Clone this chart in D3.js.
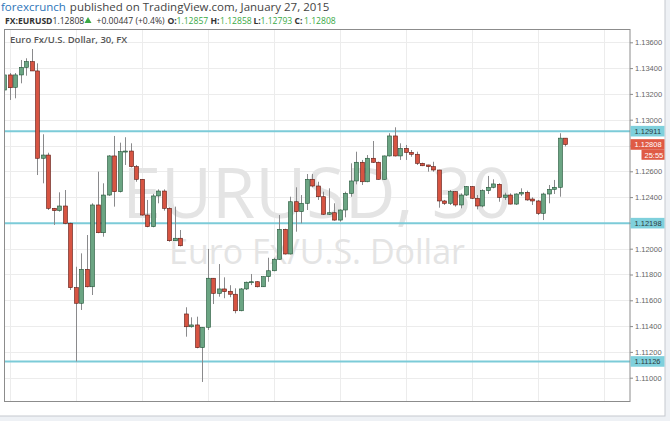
<!DOCTYPE html>
<html>
<head>
<meta charset="utf-8">
<script src="https://cdn.jsdelivr.net/npm/d3@7"></script>
<style>
body { margin: 0; background: #eef1f5; }
svg { display: block; font-family: "Open Sans", sans-serif; }
</style>
</head>
<body>
<svg id="chart" width="670" height="421"></svg>
<script>
// EURUSD 30 min bars, index 0 = 23 Jan 06:00 (weekend gap skipped)
var firstBar = -1;
var opens = [
    1.13230, 1.13347, 1.13251, 1.13347, 1.13406, 1.13450, 1.13378, 1.12701, 1.12726, 1.12313,
    1.12295, 1.12331, 1.12197, 1.11698, 1.11577, 1.11840, 1.11705, 1.12339, 1.12124, 1.12416,
    1.12719, 1.12442, 1.12752, 1.12757, 1.12636, 1.12538, 1.12261, 1.12171, 1.12409, 1.12447,
    1.12313, 1.12062, 1.12081, 1.11494, 1.11395, 1.11409, 1.11233, 1.11391, 1.11771, 1.11654,
    1.11688, 1.11670, 1.11647, 1.11519, 1.11688, 1.11740, 1.11744, 1.11705, 1.11783, 1.11829,
    1.11918, 1.12150, 1.11959, 1.12364, 1.12287, 1.12352, 1.12538, 1.12486, 1.12403, 1.12267,
    1.12279, 1.12222, 1.12300, 1.12429, 1.12525, 1.12670, 1.12519, 1.12701, 1.12670, 1.12538,
    1.12719, 1.12874, 1.12719, 1.12778, 1.12747, 1.12732, 1.12662, 1.12649, 1.12636, 1.12610,
    1.12370, 1.12352, 1.12442, 1.12339, 1.12416, 1.12481, 1.12391, 1.12331, 1.12450, 1.12476,
    1.12499, 1.12398, 1.12416, 1.12346, 1.12424, 1.12437, 1.12385, 1.12370, 1.12274, 1.12424,
    1.12460, 1.12476, 1.12857
];
var highs = [
    1.13385, 1.13362, 1.13362, 1.13463, 1.13476, 1.13548, 1.13437, 1.12887, 1.12744, 1.12316,
    1.12437, 1.12455, 1.12202, 1.11860, 1.11964, 1.12106, 1.12352, 1.12597, 1.12507, 1.12725,
    1.12874, 1.12822, 1.12864, 1.12817, 1.12649, 1.12540, 1.12378, 1.12425, 1.12460, 1.12460,
    1.12320, 1.12326, 1.12145, 1.11546, 1.11468, 1.11473, 1.11393, 1.11998, 1.11773, 1.11881,
    1.11778, 1.11717, 1.11693, 1.11695, 1.11745, 1.11804, 1.11748, 1.11785, 1.11930, 1.11930,
    1.12261, 1.12155, 1.12403, 1.12476, 1.12416, 1.12579, 1.12579, 1.12519, 1.12442, 1.12468,
    1.12352, 1.12305, 1.12442, 1.12662, 1.12752, 1.12688, 1.12726, 1.12835, 1.12675, 1.12722,
    1.12895, 1.12941, 1.12817, 1.12804, 1.12765, 1.12752, 1.12667, 1.12651, 1.12674, 1.12612,
    1.12378, 1.12455, 1.12445, 1.12429, 1.12486, 1.12486, 1.12416, 1.12460, 1.12564, 1.12538,
    1.12507, 1.12434, 1.12429, 1.12429, 1.12468, 1.12450, 1.12398, 1.12378, 1.12434, 1.12494,
    1.12533, 1.12895, 1.12858
];
var lows = [
    1.13191, 1.13153, 1.13166, 1.13282, 1.13341, 1.13378, 1.12571, 1.12507, 1.12300, 1.12184,
    1.12287, 1.12190, 1.11680, 1.11126, 1.11525, 1.11700, 1.11641, 1.12120, 1.12093, 1.12410,
    1.12326, 1.12436, 1.12649, 1.12630, 1.12519, 1.12255, 1.12166, 1.12166, 1.12352, 1.12295,
    1.12054, 1.12060, 1.12018, 1.11318, 1.11388, 1.11228, 1.10967, 1.11370, 1.11571, 1.11628,
    1.11616, 1.11624, 1.11499, 1.11515, 1.11680, 1.11718, 1.11700, 1.11703, 1.11744, 1.11825,
    1.11913, 1.11955, 1.11955, 1.12132, 1.12197, 1.12300, 1.12476, 1.12378, 1.12261, 1.12261,
    1.12217, 1.12210, 1.12243, 1.12403, 1.12499, 1.12494, 1.12515, 1.12665, 1.12535, 1.12535,
    1.12715, 1.12715, 1.12688, 1.12688, 1.12713, 1.12649, 1.12640, 1.12597, 1.12597, 1.12318,
    1.12339, 1.12339, 1.12326, 1.12313, 1.12408, 1.12385, 1.12305, 1.12321, 1.12424, 1.12468,
    1.12364, 1.12378, 1.12343, 1.12339, 1.12408, 1.12372, 1.12339, 1.12261, 1.12222, 1.12352,
    1.12424, 1.12403, 1.12793
];
var closes = [
    1.13347, 1.13248, 1.13347, 1.13406, 1.13450, 1.13378, 1.12701, 1.12726, 1.12313, 1.12295,
    1.12331, 1.12197, 1.11698, 1.11577, 1.11840, 1.11705, 1.12339, 1.12124, 1.12416, 1.12719,
    1.12442, 1.12752, 1.12757, 1.12636, 1.12538, 1.12261, 1.12171, 1.12409, 1.12447, 1.12313,
    1.12062, 1.12081, 1.12023, 1.11395, 1.11409, 1.11233, 1.11391, 1.11771, 1.11654, 1.11688,
    1.11667, 1.11647, 1.11519, 1.11688, 1.11740, 1.11744, 1.11705, 1.11783, 1.11829, 1.11918,
    1.12150, 1.11959, 1.12364, 1.12287, 1.12352, 1.12538, 1.12486, 1.12403, 1.12267, 1.12279,
    1.12222, 1.12300, 1.12429, 1.12525, 1.12670, 1.12519, 1.12701, 1.12670, 1.12538, 1.12719,
    1.12874, 1.12719, 1.12778, 1.12747, 1.12732, 1.12662, 1.12643, 1.12636, 1.12610, 1.12370,
    1.12352, 1.12442, 1.12339, 1.12416, 1.12481, 1.12391, 1.12331, 1.12450, 1.12476, 1.12502,
    1.12398, 1.12416, 1.12346, 1.12424, 1.12437, 1.12378, 1.12370, 1.12274, 1.12424, 1.12460,
    1.12476, 1.12857, 1.12808
];

var timeTicks = [0, 12, 24, 36, 48, 60, 72, 84, 96, 108];
var timeLabels = ["06:00", "12:00", "18:00", "26", "06:00", "12:00", "18:00", "27", "06:00", "12:00"];
var priceTicks = [1.110, 1.112, 1.114, 1.116, 1.118, 1.120, 1.122, 1.124, 1.126, 1.128, 1.130, 1.132, 1.134, 1.136];
var levels = [1.12911, 1.12198, 1.11126];
var lastPrice = 1.12808;
var countdown = "25:55";

var svg = d3.select("#chart");
var plot = { left: 4, top: 29, right: 630.5, bottom: 402 };

var x = d3.scaleLinear().domain([0, 108]).range([9.5, 603.5]);
var y = d3.scaleLinear().domain([1.110, 1.136]).range([377.7, 42.3]);

// outer panel
svg.append("rect").attr("width", 670).attr("height", 421).attr("fill", "#eef1f5");
svg.append("rect").attr("x", -1).attr("y", -1).attr("width", 666).attr("height", 417)
    .attr("fill", "#fff").attr("stroke", "#c5c9cf");

// header
var head1 = svg.append("text").attr("x", 1).attr("y", 10.5).attr("font-size", 11.5).attr("fill", "#444");
head1.append("tspan").attr("fill", "#2e75b9").text("forexcrunch");
head1.append("tspan").attr("dx", 4).text("published on TradingView.com, January 27, 2015");

var head2 = svg.append("text").attr("y", 23.5).attr("font-size", 8.6).attr("fill", "#333");
var green = "#3aa845";
var parts = [
    { t: "FX:EURUSD", x: 5, bold: true },
    { t: "1.12808", x: 52.5 },
    { t: "+0.00447 (+0.4%)", x: 96.5 },
    { t: "O:", x: 167.5, bold: true }, { t: "1.12857", x: 176.5, c: green },
    { t: "H:", x: 210.5, bold: true }, { t: "1.12858", x: 220, c: green },
    { t: "L:", x: 253.5, bold: true }, { t: "1.12793", x: 260.5, c: green },
    { t: "C:", x: 294.5, bold: true }, { t: "1.12808", x: 304, c: green }
];
parts.forEach(function (p) {
    head2.append("tspan").attr("x", p.x)
        .attr("font-weight", p.bold ? 700 : 400)
        .attr("fill", p.c || "#333")
        .text(p.t);
});
svg.append("path").attr("d", "M84.5,23 L88,17 L91.5,23 Z").attr("fill", green);

svg.append("defs").append("clipPath").attr("id", "plotclip")
    .append("rect").attr("x", plot.left).attr("y", plot.top)
    .attr("width", plot.right - plot.left).attr("height", plot.bottom - plot.top);

var g = svg.append("g").attr("clip-path", "url(#plotclip)");

// grid
g.selectAll("line.hgrid").data(priceTicks.concat([1.138])).enter().append("line")
    .attr("x1", plot.left).attr("x2", plot.right)
    .attr("y1", function (d) { return Math.round(y(d)) + 0.5; })
    .attr("y2", function (d) { return Math.round(y(d)) + 0.5; })
    .attr("stroke", "#ececec");
g.selectAll("line.vgrid").data(timeTicks).enter().append("line")
    .attr("y1", plot.top).attr("y2", plot.bottom)
    .attr("x1", function (d) { return Math.round(x(d)) + 0.5; })
    .attr("x2", function (d) { return Math.round(x(d)) + 0.5; })
    .attr("stroke", "#ececec");

// watermark
g.append("text").attr("x", 317).attr("y", 218).attr("text-anchor", "middle")
    .attr("font-size", 70).attr("fill", "#e4e4e4").text("EURUSD, 30");
g.append("text").attr("x", 317).attr("y", 264).attr("text-anchor", "middle")
    .attr("font-size", 34).attr("fill", "#e4e4e4").text("Euro Fx/U.S. Dollar");

// legend
g.append("text").attr("x", 10).attr("y", 43).attr("font-size", 9.5).attr("font-weight", 600)
    .attr("fill", "#555").text("Euro Fx/U.S. Dollar, 30, FX");

// level lines
g.selectAll("line.level").data(levels).enter().append("line")
    .attr("x1", plot.left).attr("x2", plot.right)
    .attr("y1", function (d) { return y(d); }).attr("y2", function (d) { return y(d); })
    .attr("stroke", "#7ccbd8").attr("stroke-width", 2);

// candles
var bars = opens.map(function (o, k) {
    return { i: k + firstBar, o: o, h: highs[k], l: lows[k], c: closes[k] };
});
var candle = g.selectAll("g.bar").data(bars).enter().append("g")
    .attr("transform", function (d) { return "translate(" + Math.round(x(d.i)) + ",0)"; });
candle.append("line")
    .attr("x1", 0.5).attr("x2", 0.5)
    .attr("y1", function (d) { return y(d.h); })
    .attr("y2", function (d) { return y(d.l); })
    .attr("stroke", "#8a8a8c");
candle.append("rect")
    .attr("x", -1.5).attr("width", 4)
    .attr("y", function (d) { return y(Math.max(d.o, d.c)); })
    .attr("height", function (d) { return Math.max(1, Math.abs(y(d.o) - y(d.c))); })
    .attr("fill", function (d) { return d.c >= d.o ? "#6ba583" : "#d75442"; })
    .attr("stroke", function (d) { return d.c >= d.o ? "#225437" : "#5b1a13"; })
    .attr("stroke-width", 0.6);

// frame
svg.append("rect").attr("x", plot.left + 0.5).attr("y", plot.top + 0.5)
    .attr("width", plot.right - plot.left - 1).attr("height", plot.bottom - plot.top - 1)
    .attr("fill", "none").attr("stroke", "#8c8c8c");

// price axis
var yAxis = svg.append("g").attr("transform", "translate(" + (plot.right - 0.5) + ",0)")
    .call(d3.axisRight(y).tickValues(priceTicks).tickSize(3).tickPadding(2)
        .tickFormat(d3.format(".5f")));
yAxis.select(".domain").remove();
yAxis.selectAll("line").attr("stroke", "#8c8c8c");
yAxis.selectAll("text").attr("font-size", 7.5).attr("fill", "#666")
    .attr("font-family", "Liberation Sans, sans-serif");

// time axis
svg.append("defs").append("clipPath").attr("id", "xclip")
    .append("rect").attr("x", plot.left).attr("y", plot.bottom).attr("width", 640).attr("height", 14);
var xAxis = svg.append("g").attr("clip-path", "url(#xclip)")
    .attr("transform", "translate(0," + plot.bottom + ")")
    .call(d3.axisBottom(x).tickValues(timeTicks).tickSize(0).tickPadding(5)
        .tickFormat(function (d, k) { return timeLabels[k]; }));
xAxis.select(".domain").remove();
xAxis.selectAll("text").attr("font-size", 7.5).attr("fill", "#666")
    .attr("font-family", "Liberation Sans, sans-serif")
    .attr("font-weight", function (d, k) { return timeLabels[k] === "26" ? 700 : 400; });

// price labels on axis
function axisTag(value, fill, color) {
    var tag = svg.append("g").attr("transform", "translate(" + plot.right + "," + y(value) + ")");
    tag.append("rect").attr("x", 0).attr("y", -5.3).attr("width", 34).attr("height", 10.6).attr("fill", fill);
    tag.append("text").attr("x", 4).attr("y", 2.8).attr("font-size", 7.5)
        .attr("font-family", "Liberation Sans, sans-serif").attr("fill", color)
        .text(d3.format(".5f")(value));
    return tag;
}
levels.forEach(function (v) { axisTag(v, "#7fd0dc", "#2c3a3d"); });
axisTag(lastPrice, "#df5a45", "#fff");
var cd = svg.append("g").attr("transform", "translate(" + (plot.right + 11) + "," + (y(lastPrice) + 10.6) + ")");
cd.append("rect").attr("x", 0).attr("y", -5.3).attr("width", 23).attr("height", 10).attr("fill", "#df5a45");
cd.append("text").attr("x", 3).attr("y", 2.6).attr("font-size", 7.5)
    .attr("font-family", "Liberation Sans, sans-serif").attr("fill", "#fff").text(countdown);
</script>
</body>
</html>
